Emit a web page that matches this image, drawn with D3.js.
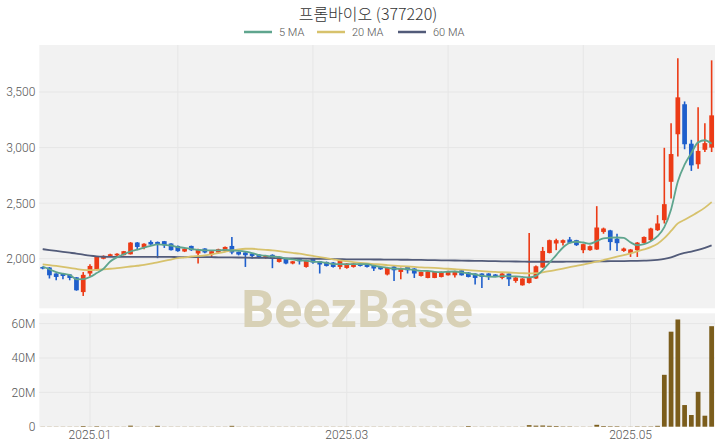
<!DOCTYPE html>
<html><head><meta charset="utf-8">
<script src="https://cdn.jsdelivr.net/npm/d3@7"></script>
<style>body{margin:0;background:#fff}svg{display:block}</style>
</head><body>
<svg id="c" width="720" height="448"></svg>
<script>
const dates = [
"2024-12-19","2024-12-20","2024-12-23","2024-12-24","2024-12-26","2024-12-27","2024-12-30",
"2025-01-02","2025-01-03","2025-01-06","2025-01-07","2025-01-08","2025-01-09","2025-01-10","2025-01-13","2025-01-14","2025-01-15","2025-01-16","2025-01-17","2025-01-20","2025-01-21","2025-01-22","2025-01-23","2025-01-24","2025-01-31",
"2025-02-03","2025-02-04","2025-02-05","2025-02-06","2025-02-07","2025-02-10","2025-02-11","2025-02-12","2025-02-13","2025-02-14","2025-02-17","2025-02-18","2025-02-19","2025-02-20","2025-02-21","2025-02-24","2025-02-25","2025-02-26","2025-02-27","2025-02-28",
"2025-03-04","2025-03-05","2025-03-06","2025-03-07","2025-03-10","2025-03-11","2025-03-12","2025-03-13","2025-03-14","2025-03-17","2025-03-18","2025-03-19","2025-03-20","2025-03-21","2025-03-24","2025-03-25","2025-03-26","2025-03-27","2025-03-28","2025-03-31",
"2025-04-01","2025-04-02","2025-04-03","2025-04-04","2025-04-07","2025-04-08","2025-04-09","2025-04-10","2025-04-11","2025-04-14","2025-04-15","2025-04-16","2025-04-17","2025-04-18","2025-04-21","2025-04-22","2025-04-23","2025-04-24","2025-04-25","2025-04-28","2025-04-29","2025-04-30",
"2025-05-02","2025-05-07","2025-05-08","2025-05-09","2025-05-12","2025-05-13","2025-05-14","2025-05-15","2025-05-16","2025-05-19","2025-05-20","2025-05-21","2025-05-22"];

const open = [1925,1921,1867,1867,1858,1833,1700,1867,1900,2000,2025,2030,2032,2040,2146,2100,2151,2151,2158,2137,2115,2065,2115,2047,2092,
2038,2056,2068,2115,2061,2056,2047,2038,2007,2035,1971,2002,1957,2002,1926,2002,1977,1971,1966,1926,
1917,1926,1957,1948,1941,1926,1858,1930,1881,1926,1912,1845,1827,1827,1836,1851,1851,1896,1876,1867,
1867,1867,1858,1827,1867,1800,1761,1782,1822,1921,2052,2137,2143,2173,2167,2077,2077,2083,2241,2255,2180,2070,
2052,2077,2142,2167,2257,2347,2692,3120,3390,3035,2850,2980,3000];
const high = [1930,1925,1870,1870,1862,1835,1880,1950,2025,2030,2045,2050,2070,2150,2150,2140,2165,2155,2160,2140,2118,2095,2118,2090,2095,
2072,2090,2110,2196,2065,2060,2050,2042,2030,2040,2015,2005,1980,2005,1990,2005,1980,1975,1970,1990,
1960,1960,1962,1952,1945,1930,1920,1935,1920,1930,1915,1885,1890,1885,1885,1892,1892,1900,1880,1870,
1870,1870,1862,1870,1870,1835,1825,2232,1938,2106,2172,2180,2172,2196,2170,2135,2118,2473,2280,2260,2225,2100,
2088,2150,2200,2278,2392,2998,3220,3804,3415,3070,3362,3220,3785];
const low = [1905,1822,1806,1815,1806,1712,1665,1840,1895,1995,2020,2025,2030,2038,2077,2085,2125,2005,2097,2075,2062,2060,2070,1957,2050,
2011,2050,2062,2040,2030,1926,2002,2005,2000,1915,1965,1950,1950,1948,1920,1955,1867,1930,1920,1905,
1910,1920,1930,1920,1890,1900,1850,1800,1815,1867,1827,1840,1825,1825,1832,1848,1830,1848,1832,1768,
1737,1809,1840,1815,1755,1784,1758,1777,1818,1918,2048,2077,2120,2138,2115,2050,2072,2080,2225,2075,2070,2062,
2016,2016,2138,2160,2250,2317,2542,2920,2985,2790,2810,2960,2960];
const close = [1912,1851,1836,1845,1827,1716,1855,1935,2020,2025,2040,2045,2068,2145,2106,2135,2128,2131,2122,2077,2068,2090,2077,2086,2056,
2068,2086,2106,2056,2038,2032,2025,2016,2025,2002,2011,1957,1977,1977,1986,1966,1948,1935,1926,1986,
1957,1957,1935,1926,1912,1905,1917,1896,1917,1896,1867,1881,1887,1881,1881,1887,1887,1851,1836,1827,
1836,1845,1845,1867,1815,1831,1822,1831,1932,2070,2167,2167,2167,2143,2122,2131,2113,2281,2272,2150,2140,2092,
2083,2145,2196,2272,2317,2491,2942,3452,3030,2840,2970,3040,3290];
const volumeM = [0.1,0.1,0.1,0.1,0.1,0.1,0.4,0.1,0.3,0.1,0.1,0.1,0.1,0.6,0.1,0.1,0.1,0.5,0.1,0.1,0.1,0.1,0.1,0.1,0.1,
0.1,0.1,0.1,0.5,0.1,0.1,0.1,0.1,0.1,0.1,0.1,0.1,0.1,0.1,0.1,0.1,0.1,0.1,0.1,0.1,
0.1,0.1,0.1,0.1,0.1,0.1,0.1,0.1,0.1,0.1,0.1,0.1,0.1,0.1,0.1,0.1,0.1,0.1,0.4,0.1,
0.1,0.1,0.1,0.1,0.1,0.1,0.1,0.9,0.6,0.7,0.5,0.4,0.2,0.2,0.1,0.1,0.1,1.1,0.4,0.3,0.3,0.1,
0.1,0.2,0.2,0.2,0.5,30.2,55.3,62.4,12.6,6.8,20.3,6.4,58.5];
const ma5 = [1930,1905,1880,1865,1854,1815,1816,1836,1871,1910,1975,2013,2040,2065,2081,2100,2116,2129,2124,2119,2105,2098,2087,2080,2075,
2075,2075,2080,2074,2071,2064,2051,2033,2027,2020,2016,2002,1994,1985,1982,1973,1971,1962,1952,1952,
1950,1952,1952,1952,1937,1927,1919,1911,1909,1906,1899,1891,1890,1882,1879,1883,1885,1877,1868,1858,
1847,1839,1838,1844,1842,1841,1836,1833,1846,1897,1964,2033,2101,2143,2153,2146,2135,2158,2184,2189,2191,2187,
2147,2122,2131,2158,2203,2284,2444,2695,2846,2951,3047,3066,3034];
const ma20 = [1950,1942,1935,1927,1918,1908,1900,1897,1900,1905,1910,1915,1922,1930,1937,1944,1955,1968,1980,1993,2005,2012,2020,2025,2030,
2040,2050,2062,2075,2085,2090,2090,2085,2080,2075,2068,2060,2052,2045,2035,2025,2015,2005,1995,1985,
1978,1970,1963,1957,1952,1948,1943,1938,1934,1930,1926,1922,1920,1917,1913,1910,1906,1902,1897,1893,
1888,1884,1881,1879,1876,1873,1870,1868,1870,1878,1888,1900,1912,1924,1936,1948,1960,1973,1988,2003,2018,2033,
2048,2066,2084,2105,2135,2185,2250,2318,2350,2385,2420,2460,2510];
const ma60 = [2086,2078,2070,2062,2054,2046,2036,2027,2021,2018,2017,2016,2016,2016,2016,2016,2016,2016,2016,2016,2015,2015,2015,2014,2014,
2014,2013,2013,2012,2011,2010,2009,2008,2007,2006,2005,2004,2003,2002,2001,2000,1999,1998,1997,1996,
1995,1995,1994,1994,1993,1993,1992,1992,1991,1991,1990,1989,1988,1987,1986,1985,1984,1983,1982,1981,
1980,1979,1978,1977,1976,1975,1974,1973,1973,1973,1973,1973,1973,1974,1974,1975,1975,1976,1977,1978,1978,1979,
1980,1981,1983,1985,1990,1998,2012,2035,2052,2065,2080,2098,2120];

const priceTicks = [2000,2500,3000,3500];
const volumeTicks = [0,20,40,60];
const volumeTickLabels = ["0","20M","40M","60M"];
const xTickDates = ["2025-01-02","2025-03-04","2025-05-02"];
const xTickLabels = ["2025.01","2025.03","2025.05"];
const priceGridDates = ["2025-01-21","2025-02-24","2025-03-25","2025-04-22"];
const maNames = ["5 MA","20 MA","60 MA"];
const maColors = ["#5fa58e","#d7c26c","#525b79"];
const title = "프롬바이오 (377220)";

const svg = d3.select("#c");
const L = 39.3, R = 715;
const pTop = 45, pBot = 308.3, vTop = 313.3, vBot = 426.7;
const x = d3.scaleBand().domain(dates).range([L, R]).paddingInner(0.3).paddingOuter(0.15);
const cx = d => x(d) + x.bandwidth()/2;
const y = d3.scaleLinear().domain([1554, 3923]).range([pBot, pTop]);
const yv = d3.scaleLinear().domain([0, 66]).range([vBot, vTop]);
const UP = "#ec3b16", DOWN = "#1f5fcc";
const font = "Roboto, 'Noto Sans', sans-serif";

svg.append("rect").attr("x",L).attr("y",pTop).attr("width",R-L).attr("height",pBot-pTop).attr("fill","#f2f2f2");
svg.append("rect").attr("x",L).attr("y",vTop).attr("width",R-L).attr("height",vBot-vTop).attr("fill","#f2f2f2");

const grid = "#e6e6e6";
svg.append("g").selectAll("line").data(priceTicks).join("line")
  .attr("x1",L).attr("x2",R).attr("y1",d=>y(d)).attr("y2",d=>y(d)).attr("stroke",grid).attr("stroke-width",1);
svg.append("g").selectAll("line").data(priceGridDates).join("line")
  .attr("x1",cx).attr("x2",cx).attr("y1",pTop).attr("y2",pBot).attr("stroke",grid).attr("stroke-width",1);
svg.append("g").selectAll("line").data(volumeTicks.slice(1)).join("line")
  .attr("x1",L).attr("x2",R).attr("y1",d=>yv(d)).attr("y2",d=>yv(d)).attr("stroke",grid).attr("stroke-width",1);
svg.append("g").selectAll("line").data(xTickDates).join("line")
  .attr("x1",cx).attr("x2",cx).attr("y1",vTop).attr("y2",vBot).attr("stroke",grid).attr("stroke-width",1);

svg.append("text").attr("x",357).attr("y",327).attr("text-anchor","middle")
  .attr("font-family","Roboto, sans-serif").attr("font-weight","bold").attr("font-size",52)
  .attr("fill","#d8d1b6").text("BeezBase");

const yAx = svg.append("g").attr("transform",`translate(${L},0)`)
  .call(d3.axisLeft(y).tickValues(priceTicks).tickSize(0).tickPadding(4).tickFormat(d3.format(",")));
const vAx = svg.append("g").attr("transform",`translate(${L},0)`)
  .call(d3.axisLeft(yv).tickValues(volumeTicks).tickSize(0).tickPadding(4).tickFormat((d,i)=>volumeTickLabels[i]));
const xAx = svg.append("g").attr("transform",`translate(0,${vBot})`)
  .call(d3.axisBottom(x).tickValues(xTickDates).tickSize(0).tickPadding(4).tickFormat((d,i)=>xTickLabels[i]));
[yAx,vAx,xAx].forEach(g=>{g.select(".domain").remove();
  g.selectAll("text").attr("font-family",font).attr("font-weight",300).attr("font-size",12).attr("fill","#555");});

const idx = d3.range(dates.length);
const cg = svg.append("g");
cg.selectAll("line").data(idx).join("line")
  .attr("x1",i=>cx(dates[i])).attr("x2",i=>cx(dates[i]))
  .attr("y1",i=>y(high[i])).attr("y2",i=>y(low[i]))
  .attr("stroke",i=>close[i]>=open[i]?UP:DOWN).attr("stroke-width",1.6);
cg.selectAll("rect").data(idx).join("rect")
  .attr("x",i=>x(dates[i])).attr("width",x.bandwidth())
  .attr("y",i=>y(Math.max(open[i],close[i])))
  .attr("height",i=>Math.max(1.5, Math.abs(y(open[i])-y(close[i]))))
  .attr("fill",i=>close[i]>=open[i]?UP:DOWN);

[ma60, ma20, ma5].forEach((arr,k)=>{
  const color = maColors[2-k];
  svg.append("path").datum(idx)
    .attr("d", d3.line().x(i=>cx(dates[i])).y(i=>y(arr[i])).curve(d3.curveMonotoneX))
    .attr("fill","none").attr("stroke",color).attr("stroke-width",1.8);
});

svg.append("g").selectAll("rect").data(idx).join("rect")
  .attr("x",i=>x(dates[i])).attr("width",x.bandwidth())
  .attr("y",i=>yv(volumeM[i])).attr("height",i=>yv(0)-yv(volumeM[i]))
  .attr("fill","#7b5d1c");

svg.append("text").attr("x",368).attr("y",20).attr("text-anchor","middle")
  .attr("font-family","'Noto Sans CJK KR', sans-serif").attr("font-weight",300).attr("font-size",16).attr("fill","#333").text(title);
const legX = [244, 317, 398];
const lg = svg.append("g");
maNames.forEach((n,i)=>{
  lg.append("line").attr("x1",legX[i]).attr("x2",legX[i]+28).attr("y1",32).attr("y2",32)
    .attr("stroke",maColors[i]).attr("stroke-width",2.5);
  lg.append("text").attr("x",legX[i]+35).attr("y",36).attr("font-family",font).attr("font-weight",300).attr("font-size",11)
    .attr("fill","#555").text(n);
});
</script>
</body></html>
